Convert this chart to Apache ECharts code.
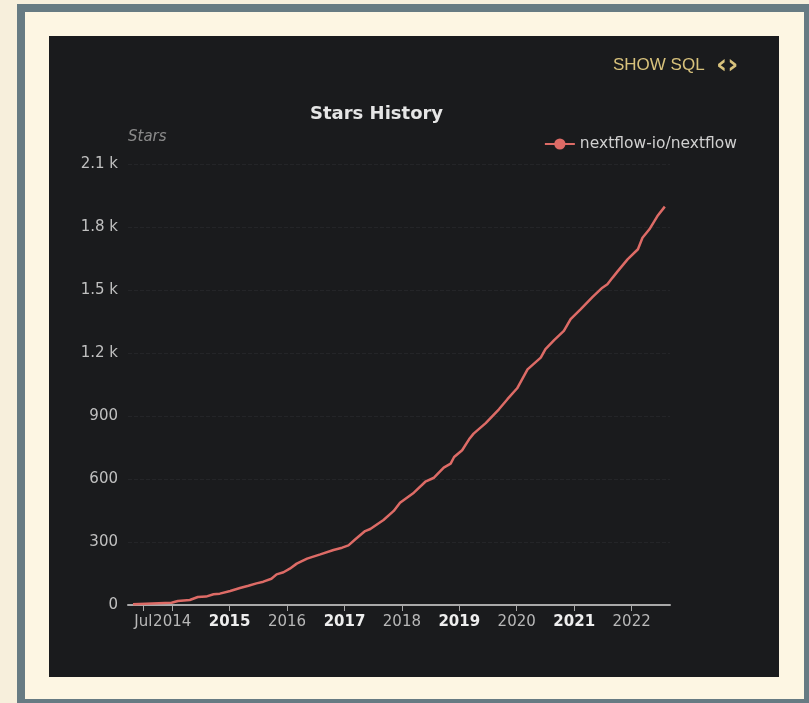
<!DOCTYPE html>
<html>
<head>
<meta charset="utf-8">
<script src="https://cdn.jsdelivr.net/npm/echarts@6/dist/echarts.min.js"></script>
<style>
  html, body { margin: 0; padding: 0; width: 809px; height: 703px; overflow: hidden; background: #f7efdc; }
  #frame { position: absolute; left: 17px; top: 4px; width: 795px; height: 703px; box-sizing: border-box;
           border: 8px solid #677b83; background: #fdf6e3; }
  #panel { position: absolute; left: 49px; top: 36px; width: 730px; height: 641px; background: #1a1b1d; }
  #chart { width: 730px; height: 641px; }
</style>
</head>
<body>
<div id="frame"></div>
<div id="panel"><div id="chart"></div></div>
<script>
// ---- data ----
const seriesName = 'nextflow-io/nextflow';
const dates = [
  '2013-04-27','2013-12-28','2014-02-06','2014-04-23','2014-06-13','2014-08-04','2014-09-21','2014-10-31',
  '2015-01-05','2015-03-08','2015-05-01','2015-06-21','2015-08-04','2015-09-24','2015-10-27','2015-12-10',
  '2016-01-19','2016-03-03','2016-05-08','2016-07-31','2016-10-23','2016-12-17',
  '2017-01-26','2017-03-11','2017-05-12','2017-06-14','2017-09-06','2017-11-10','2017-12-20',
  '2018-03-18','2018-05-30','2018-07-24','2018-09-24','2018-11-07','2018-11-29',
  '2019-01-19','2019-03-04','2019-04-02','2019-06-18','2019-09-10','2019-11-03',
  '2020-01-04','2020-03-10','2020-06-02','2020-07-02','2020-08-26','2020-10-27','2020-12-09',
  '2021-02-10','2021-04-28','2021-06-29','2021-07-31','2021-09-02','2021-10-05','2021-12-06',
  '2022-02-10','2022-03-11','2022-04-24','2022-06-14','2022-07-31'
];
const stars = [
  3, 11, 19, 24, 38, 40, 51, 54,
  67, 81, 92, 103, 111, 125, 146, 156,
  173, 197, 221, 241, 262, 273,
  284, 313, 352, 362, 405, 448, 487,
  535, 587, 606, 654, 673, 705,
  737, 789, 816, 866, 932, 980,
  1032, 1122, 1178, 1218, 1261, 1305, 1361,
  1408, 1467, 1511, 1527, 1559, 1590, 1646,
  1694, 1749, 1789, 1852, 1897
];
const xTickDates = ['2013-07-01','2014-01-01','2015-01-01','2016-01-01','2017-01-01','2018-01-01',
                    '2019-01-01','2020-01-01','2021-01-01','2022-01-01'];
const xTickLabels = ['Jul','2014','2015','2016','2017','2018','2019','2020','2021','2022'];
const xTickBold = [false,false,true,false,true,false,true,false,true,false];
const xRange = ['2013-03-26', '2022-09-02'];

// ---- chart ----
const ts = d => +new Date(d + 'T00:00:00Z');
const chart = echarts.init(document.getElementById('chart'), null, { renderer: 'canvas' });
const tickTs = xTickDates.map(ts);
function labelFor(v) {
  let best = 0, bd = Infinity;
  tickTs.forEach((t, i) => { const dd = Math.abs(t - v); if (dd < bd) { bd = dd; best = i; } });
  return (xTickBold[best] ? '{b|' : '{n|') + xTickLabels[best] + '}';
}
const font = 'DejaVu Sans';
chart.setOption({
  backgroundColor: '#1a1b1d',
  animation: false,
  textStyle: { fontFamily: font },
  title: {
    text: 'Stars History',
    left: 256, top: 64,
    textStyle: { color: '#e6e6e6', fontSize: 18, fontWeight: 'bold', fontFamily: font }
  },
  graphic: [{
    type: 'text', left: 564, top: 21,
    style: { text: 'SHOW SQL', fill: '#d8c27c', font: '17px "Liberation Sans", Arial, sans-serif' }
  }, {
    type: 'text', left: 667, top: 16,
    style: { text: '‹›', fill: '#d8c27c', font: 'bold 27px "DejaVu Sans", sans-serif' }
  }],
  legend: {
    right: 37, top: 95,
    itemWidth: 30, itemHeight: 14, itemGap: 8,
    textStyle: { color: '#d0d0d0', fontSize: 15.5, fontFamily: font },
    data: [seriesName]
  },
  grid: { left: 79, right: 109, top: 128, bottom: 72 },
  xAxis: {
    type: 'value',
    min: ts(xRange[0]),
    max: ts(xRange[1]),
    axisLine: { lineStyle: { color: '#a9a9a9', width: 2 } },
    axisTick: { show: true, length: 6, lineStyle: { color: '#a9a9a9' }, customValues: tickTs },
    axisLabel: {
      customValues: tickTs,
      margin: 10,
      showMinLabel: true, showMaxLabel: true,
      formatter: (v) => labelFor(v),
      rich: {
        n: { color: '#b8b8b8', fontSize: 15, fontFamily: font },
        b: { color: '#eeeeee', fontSize: 15, fontWeight: 'bold', fontFamily: font }
      }
    },
    splitLine: { show: false }
  },
  yAxis: {
    type: 'value',
    min: 0, max: 2100, interval: 300,
    name: 'Stars',
    nameLocation: 'end',
    nameGap: 27,
    nameTextStyle: { color: '#8a8a8a', fontStyle: 'italic', fontSize: 15, align: 'left', verticalAlign: 'middle', fontFamily: font },
    axisLine: { show: false },
    axisTick: { show: false },
    axisLabel: {
      color: '#c0c0c0', fontSize: 15, margin: 10, fontFamily: font,
      formatter: (v) => v >= 1000 ? (v / 1000) + ' k' : String(v)
    },
    splitLine: { lineStyle: { color: '#242528', type: 'dashed' } }
  },
  series: [{
    name: seriesName,
    type: 'line',
    showSymbol: false,
    symbol: 'circle',
    symbolSize: 10,
    color: '#dd6b66',
    lineStyle: { width: 2.5, color: '#dd6b66' },
    data: dates.map((d, i) => [ts(d), stars[i]])
  }]
});
</script>
</body>
</html>
